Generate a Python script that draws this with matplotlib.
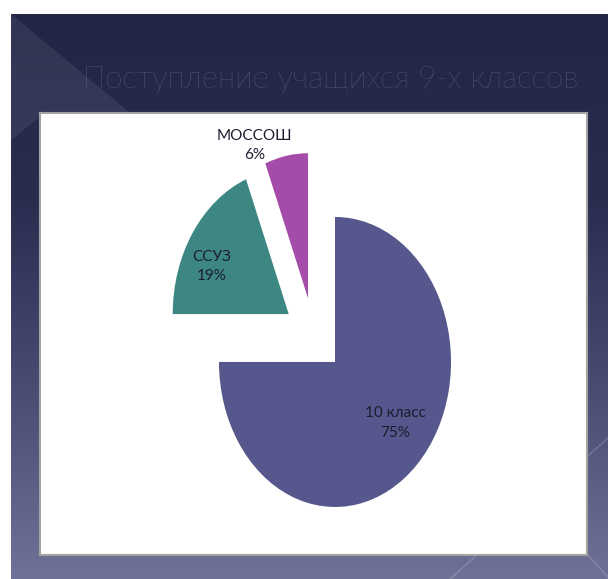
import numpy as np
import matplotlib
matplotlib.use('Agg')
import matplotlib.pyplot as plt
from matplotlib.patches import Polygon

# Данные диаграммы
categories = ['10 класс', 'ССУЗ', 'МОССОШ']
shares = [75, 19, 6]  # %
title = 'Поступление учащихся 9-х классов'

slice_colors = ['#56578c', '#3d8783', '#a54ba9']
fonts = ['Lato', 'DejaVu Sans']

W, H = 608, 579
fig = plt.figure(figsize=(W / 100, H / 100), dpi=100, facecolor='white')

# Фон слайда (вертикальный градиент)
bg = fig.add_axes([11 / W, 0, (W - 11) / W, (H - 14) / H])
bg.set_xlim(11, W)
bg.set_ylim(H, 14)
bg.axis('off')
grad = np.linspace(0, 1, 256).reshape(-1, 1)
cmap = matplotlib.colors.LinearSegmentedColormap.from_list(
    'slide', ['#232546', '#2a2d50', '#4a4c72', '#707197'])
bg.imshow(grad, cmap=cmap, aspect='auto', extent=(11, W, H, 14))
# декоративный треугольник и линии
bg.add_patch(Polygon([(11, 14), (135, 117), (40, 117), (11, 140)], closed=True,
                     facecolor='white', alpha=0.07, edgecolor='none'))
bg.plot([450, 608], [579, 438], color='white', alpha=0.18, lw=1)
bg.plot([500, 608], [460, 577], color='white', alpha=0.18, lw=1)

fig.text(331 / W, 1 - 80 / H, title, ha='center', va='center',
         fontsize=22.5, color='#63668f', family=fonts, fontweight='light')

# Белая панель с круговой диаграммой
ax = fig.add_axes([40 / W, (H - 555) / H, (587 - 40) / W, (555 - 113) / H])
wedges, _ = ax.pie(shares, colors=slice_colors, startangle=90,
                   counterclock=False, explode=[0.26, 0.26, 0.26],
                   wedgeprops=dict(linewidth=0))
ax.set_aspect('auto')
ax.set_xlim(-2.359, 2.356)
ax.set_ylim(-1.515, 1.533)
ax.set_frame_on(True)
ax.set_facecolor('white')
for s in ax.spines.values():
    s.set_color('#a3a3a3')
    s.set_linewidth(1.5)
ax.set_xticks([])
ax.set_yticks([])

# Подписи долей
label_dist = [0.67, 0.74, 1.15]
label_shift = [6, 8, 13]
for w, name, val, d, sh in zip(wedges, categories, shares, label_dist, label_shift):
    ang = np.deg2rad((w.theta1 + w.theta2) / 2 + sh)
    cx, cy = w.center
    ax.text(cx + d * np.cos(ang), cy + d * np.sin(ang), f'{name}\n{val}%',
            ha='center', va='center', fontsize=11, color='#1c1c2e',
            family=fonts, linespacing=1.5)

fig.savefig('out.png', dpi=100, facecolor='white')
